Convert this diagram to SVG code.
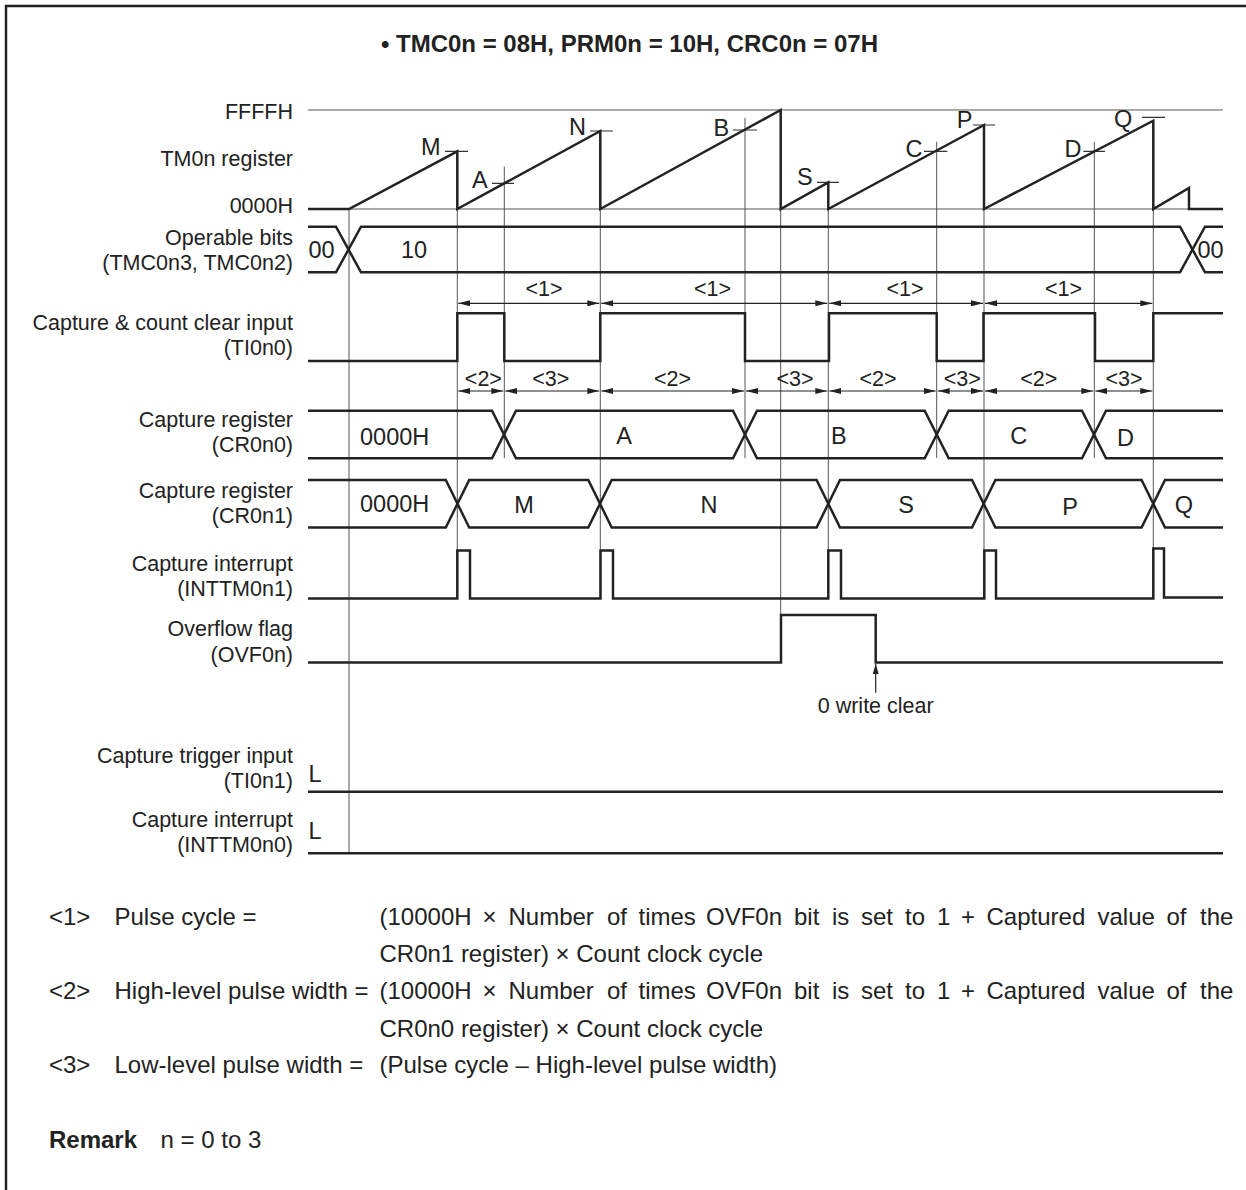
<svg xmlns="http://www.w3.org/2000/svg" width="1246" height="1190" viewBox="0 0 1246 1190">
<style>
text{font-family:"Liberation Sans",Arial,Helvetica,sans-serif;fill:#222}
.lbl{font-size:21.5px;text-anchor:end}
.val{font-size:23.5px}
.dl{font-size:21.5px;text-anchor:middle}
.ft{font-size:24px}
.sig{fill:none;stroke:#222;stroke-width:2.5;stroke-linejoin:miter}
.thin{fill:none;stroke:#555;stroke-width:1}
.tick{fill:none;stroke:#333;stroke-width:1.2}
.dim{fill:none;stroke:#222;stroke-width:1.2;marker-start:url(#ah);marker-end:url(#ah)}
</style>
<defs>
<marker id="ah" viewBox="0 0 12 6" refX="12" refY="3" markerWidth="12" markerHeight="6" markerUnits="userSpaceOnUse" orient="auto-start-reverse"><path d="M0,0 L12,3 L0,6 z" fill="#222"/></marker>
<marker id="up" viewBox="0 0 10 6" refX="10" refY="3" markerWidth="10" markerHeight="6" markerUnits="userSpaceOnUse" orient="auto"><path d="M0,0 L10,3 L0,6 z" fill="#222"/></marker>
</defs>
<rect width="1246" height="1190" fill="#fff"/>
<path d="M6,1190 V6 H1246" fill="none" stroke="#222" stroke-width="2.5"/>
<text x="381" y="52" font-size="24" font-weight="bold" textLength="497">• TMC0n = 08H, PRM0n = 10H, CRC0n = 07H</text>

<g id="connectors">
<g id="guides">
<path class="thin" d="M308,110 H1223 M308,209 H1223"/>
<path class="thin" d="M349,209 V853 M457.3,209 V598 M504.3,166.7 V458 M600.3,209 V598 M745,118 V458 M780.7,209 V662 M828.3,209 V598 M936.7,141.7 V458 M984,209 V598 M1094.3,141.7 V458 M1153.3,209 V598"/>
<path class="tick" d="M445,151.3 H468 M590,131 H613 M492,183.3 H514 M733,130 H757 M817,182.3 H839 M924,151.3 H947.3 M973,125 H995 M1083.3,151.3 H1105 M1142,117.3 H1165"/>
</g>
<g id="dims1">
<path class="dim" d="M458.3,303.3 H599.3"/>
<path class="dim" d="M601.3,303.3 H827.3"/>
<path class="dim" d="M829.3,303.3 H983"/>
<path class="dim" d="M985,303.3 H1152.3"/>
</g>
<g id="dims23">
<path class="dim" d="M458.3,391 H503.3"/>
<path class="dim" d="M505.3,391 H599.3"/>
<path class="dim" d="M601.3,391 H744"/>
<path class="dim" d="M746,391 H827.3"/>
<path class="dim" d="M829.3,391 H935.7"/>
<path class="dim" d="M937.7,391 H983"/>
<path class="dim" d="M985,391 H1093.3"/>
<path class="dim" d="M1095.3,391 H1152.3"/>
</g>
<g id="clear-arrow">
<path d="M875.7,692.7 V664" fill="none" stroke="#222" stroke-width="1.2" marker-end="url(#up)"/>
</g>
</g>

<g id="dim-labels">
<text class="dl" x="544" y="296">&lt;1&gt;</text>
<text class="dl" x="712.5" y="296">&lt;1&gt;</text>
<text class="dl" x="905" y="296">&lt;1&gt;</text>
<text class="dl" x="1063.5" y="296">&lt;1&gt;</text>
<text class="dl" x="483.4" y="386">&lt;2&gt;</text>
<text class="dl" x="550.8" y="386">&lt;3&gt;</text>
<text class="dl" x="672.5" y="386">&lt;2&gt;</text>
<text class="dl" x="795" y="386">&lt;3&gt;</text>
<text class="dl" x="878" y="386">&lt;2&gt;</text>
<text class="dl" x="962.3" y="386">&lt;3&gt;</text>
<text class="dl" x="1038.7" y="386">&lt;2&gt;</text>
<text class="dl" x="1124" y="386">&lt;3&gt;</text>
</g>

<g id="tm0n">
<text class="lbl" x="293" y="119.3">FFFFH</text>
<text class="lbl" x="293" y="166">TM0n register</text>
<text class="lbl" x="293" y="213.3">0000H</text>
<path class="sig" d="M308,209 H349 L457.3,151.3 V209 L600.3,131 V209 L780.7,110 V209 L828.3,182.3 V209 L984,125 V209 L1153.3,120.7 V209 L1189,188 V209 H1223"/>
<text class="val" x="421" y="155">M</text>
<text class="val" x="472" y="188.3">A</text>
<text class="val" x="569" y="135">N</text>
<text class="val" x="713.5" y="136">B</text>
<text class="val" x="797" y="185">S</text>
<text class="val" x="905.5" y="156.7">C</text>
<text class="val" x="956.7" y="128.3">P</text>
<text class="val" x="1064.5" y="156.7">D</text>
<text class="val" x="1114" y="127.3">Q</text>
</g>

<g id="operable-bits">
<text class="lbl" x="293" y="245">Operable bits</text>
<text class="lbl" x="293" y="270">(TMC0n3, TMC0n2)</text>
<path class="sig" d="M308,226.7 H336 L361,272.3 H1180 L1205,226.7 H1223"/>
<path class="sig" d="M308,272.3 H336 L361,226.7 H1180 L1205,272.3 H1223"/>
<text class="val" x="308.5" y="258.3">00</text>
<text class="val" x="401" y="258.3">10</text>
<text class="val" x="1197.5" y="258.3">00</text>
</g>

<g id="ti0n0">
<text class="lbl" x="293" y="330">Capture &amp; count clear input</text>
<text class="lbl" x="293" y="355">(TI0n0)</text>
<path class="sig" d="M308,361 H457.3 V313.3 H504.3 V361 H600.3 V313.3 H745 V361 H829 V313.3 H936.7 V361 H983.5 V313.3 H1095 V361 H1153.3 V313.3 H1223"/>
</g>

<g id="cr0n0">
<text class="lbl" x="293" y="426.7">Capture register</text>
<text class="lbl" x="293" y="451.7">(CR0n0)</text>
<path class="sig" d="M308,410.7 H492 L516,458.3 H733 L757,410.7 H924.7 L948.7,458.3 H1082 L1106,410.7 H1223"/>
<path class="sig" d="M308,458.3 H492 L516,410.7 H733 L757,458.3 H924.7 L948.7,410.7 H1082 L1106,458.3 H1223"/>
<text class="val" x="360" y="445">0000H</text>
<text class="val" x="624" y="443.5" text-anchor="middle">A</text>
<text class="val" x="831" y="443.5">B</text>
<text class="val" x="1018.7" y="443.5" text-anchor="middle">C</text>
<text class="val" x="1125.5" y="445.5" text-anchor="middle">D</text>
</g>

<g id="cr0n1">
<text class="lbl" x="293" y="498.3">Capture register</text>
<text class="lbl" x="293" y="523.3">(CR0n1)</text>
<path class="sig" d="M308,480 H445.8 L469.2,527.5 H588.3 L611.7,480 H816.6 L840,527.5 H972 L995.4,480 H1141.6 L1165,527.5 H1223"/>
<path class="sig" d="M308,527.5 H445.8 L469.2,480 H588.3 L611.7,527.5 H816.6 L840,480 H972 L995.4,527.5 H1141.6 L1165,480 H1223"/>
<text class="val" x="360" y="511.7">0000H</text>
<text class="val" x="524" y="513.3" text-anchor="middle">M</text>
<text class="val" x="709" y="513.3" text-anchor="middle">N</text>
<text class="val" x="906" y="513.3" text-anchor="middle">S</text>
<text class="val" x="1070" y="515" text-anchor="middle">P</text>
<text class="val" x="1184" y="513.3" text-anchor="middle">Q</text>
</g>

<g id="inttm0n1">
<text class="lbl" x="293" y="571">Capture interrupt</text>
<text class="lbl" x="293" y="596">(INTTM0n1)</text>
<path class="sig" d="M308,598.5 H457.3 V550.5 H470 V598.5 H600.5 V550.5 H613 V598.5 H828.3 V550.5 H841 V598.5 H984.3 V550.5 H996 V598.5 H1153.3 V548.5 H1164 V597.5 H1223"/>
</g>

<g id="ovf0n">
<text class="lbl" x="293" y="636">Overflow flag</text>
<text class="lbl" x="293" y="661.7">(OVF0n)</text>
<path class="sig" d="M308,662.5 H781 V615 H875.7 V662.5 H1223"/>
<text x="875.7" y="713" font-size="21.5" text-anchor="middle">0 write clear</text>
</g>

<g id="ti0n1">
<text class="lbl" x="293" y="763.3">Capture trigger input</text>
<text class="lbl" x="293" y="788.3">(TI0n1)</text>
<text class="val" x="308.5" y="781.7">L</text>
<path class="sig" d="M308,791.7 H1223"/>
</g>

<g id="inttm0n0">
<text class="lbl" x="293" y="826.7">Capture interrupt</text>
<text class="lbl" x="293" y="851.7">(INTTM0n0)</text>
<text class="val" x="308.5" y="839.3">L</text>
<path class="sig" d="M308,853.3 H1223"/>
</g>

<g id="notes">
<text class="ft" x="49" y="925">&lt;1&gt;</text>
<text class="ft" x="114.5" y="925">Pulse cycle =</text>
<text class="ft" y="925"><tspan x="379.5">(10000H</tspan><tspan x="482.5">×</tspan><tspan x="508.5">Number</tspan><tspan x="607">of</tspan><tspan x="638.5">times</tspan><tspan x="706">OVF0n</tspan><tspan x="794">bit</tspan><tspan x="832">is</tspan><tspan x="861">set</tspan><tspan x="905">to</tspan><tspan x="937">1</tspan><tspan x="961">+</tspan><tspan x="986.5">Captured</tspan><tspan x="1097.5">value</tspan><tspan x="1166.5">of</tspan><tspan x="1200">the</tspan></text>
<text class="ft" x="379.5" y="961.7">CR0n1 register) × Count clock cycle</text>
<text class="ft" x="49" y="999.3">&lt;2&gt;</text>
<text class="ft" x="114.5" y="999.3">High-level pulse width =</text>
<text class="ft" y="999.3"><tspan x="379.5">(10000H</tspan><tspan x="482.5">×</tspan><tspan x="508.5">Number</tspan><tspan x="607">of</tspan><tspan x="638.5">times</tspan><tspan x="706">OVF0n</tspan><tspan x="794">bit</tspan><tspan x="832">is</tspan><tspan x="861">set</tspan><tspan x="905">to</tspan><tspan x="937">1</tspan><tspan x="961">+</tspan><tspan x="986.5">Captured</tspan><tspan x="1097.5">value</tspan><tspan x="1166.5">of</tspan><tspan x="1200">the</tspan></text>
<text class="ft" x="379.5" y="1036.7">CR0n0 register) × Count clock cycle</text>
<text class="ft" x="49" y="1073.3">&lt;3&gt;</text>
<text class="ft" x="114.5" y="1073.3">Low-level pulse width =</text>
<text class="ft" x="379.5" y="1073.3">(Pulse cycle – High-level pulse width)</text>
<text class="ft" x="49" y="1148.3" font-weight="bold">Remark</text>
<text class="ft" x="160.5" y="1148.3">n = 0 to 3</text>
</g>
</svg>
